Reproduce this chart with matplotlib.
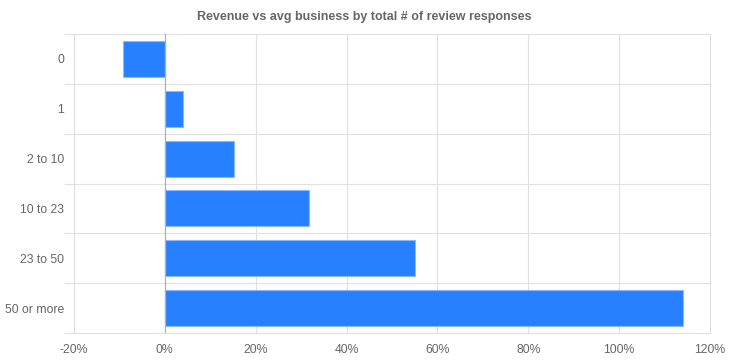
import matplotlib
matplotlib.use("Agg")
from matplotlib import pyplot as plt
from matplotlib.ticker import FuncFormatter

categories = ["0", "1", "2 to 10", "10 to 23", "23 to 50", "50 or more"]
values = [-9.3, 4.1, 15.3, 31.8, 55.0, 114.0]
xticks = [-20, 0, 20, 40, 60, 80, 100, 120]

plt.rcParams['font.family'] = ['Liberation Sans', 'DejaVu Sans']

fig = plt.figure(figsize=(7.29, 3.64), dpi=100)
ax = fig.add_axes([74/729, 1-333/364, (710-74)/729, (333-34)/364])

ypos = list(range(len(categories)))
ax.barh(ypos, values, height=0.72, color="#2680ff", edgecolor="#8bb8ff", linewidth=0.8, zorder=3)

ax.set_xlim(-20, 120)
ax.set_ylim(len(categories) - 0.5, -0.5)
ax.set_xticks(xticks)
ax.xaxis.set_major_formatter(FuncFormatter(lambda v, p: "%d%%" % v))
ax.set_yticks(ypos)
ax.set_yticklabels(categories)
ax.set_yticks([i - 0.5 for i in range(len(categories) + 1)], minor=True)

ax.grid(axis="x", color="#e0e0e0", linewidth=0.8, zorder=0)
ax.grid(axis="y", which="minor", color="#e0e0e0", linewidth=0.8, zorder=0)
ax.axvline(0, color="#b0b0b0", linewidth=0.9, zorder=4)

ax.tick_params(axis="y", which="major", length=0, pad=7, labelsize=8.8, labelcolor="#666666")
ax.tick_params(axis="y", which="minor", length=7, color="#e0e0e0", width=0.8)
ax.tick_params(axis="x", length=0, pad=8, labelsize=8.8, labelcolor="#666666")
for s in ax.spines.values():
    s.set_color("#e0e0e0")
    s.set_linewidth(0.8)

fig.text(0.5, 1-17/364, "Revenue vs avg business by total # of review responses",
         ha="center", va="center", fontsize=9, fontweight="bold", color="#666666")

fig.savefig("out.png", dpi=100)
